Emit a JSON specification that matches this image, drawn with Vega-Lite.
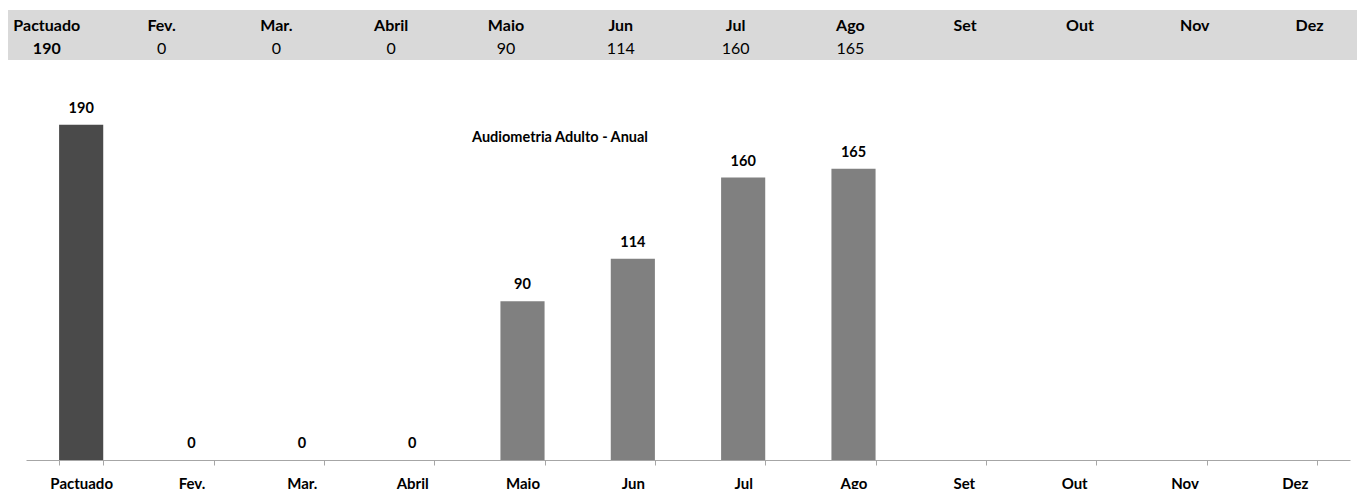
{
  "$schema": "https://vega.github.io/schema/vega-lite/v6.json",
  "padding": {"left": 8, "top": 10, "right": 0, "bottom": 0},
  "background": "white",
  "spacing": 40,
  "config": {"font": "Lato", "view": {"stroke": null}},
  "data": {"values": [
    {"mes": "Pactuado", "valor": 190, "tipo": "Pactuado"},
    {"mes": "Fev.", "valor": 0, "tipo": "Realizado"},
    {"mes": "Mar.", "valor": 0, "tipo": "Realizado"},
    {"mes": "Abril", "valor": 0, "tipo": "Realizado"},
    {"mes": "Maio", "valor": 90, "tipo": "Realizado"},
    {"mes": "Jun", "valor": 114, "tipo": "Realizado"},
    {"mes": "Jul", "valor": 160, "tipo": "Realizado"},
    {"mes": "Ago", "valor": 165, "tipo": "Realizado"},
    {"mes": "Set", "valor": null, "tipo": "Realizado"},
    {"mes": "Out", "valor": null, "tipo": "Realizado"},
    {"mes": "Nov", "valor": null, "tipo": "Realizado"},
    {"mes": "Dez", "valor": null, "tipo": "Realizado"}
  ]},
  "vconcat": [
    {
      "width": 1349,
      "height": 50,
      "view": {"fill": "#d9d9d9", "stroke": null},
      "encoding": {
        "x": {"field": "mes", "type": "nominal",
          "scale": {"type": "point", "domain": ["Pactuado","Fev.","Mar.","Abril","Maio","Jun","Jul","Ago","Set","Out","Nov","Dez"], "padding": 0.3755, "align": 0.45},
          "axis": null}
      },
      "layer": [
        {
          "mark": {"type": "text", "fontWeight": "bold", "fontSize": 16, "color": "black"},
          "encoding": {
            "y": {"datum": "nome", "type": "nominal", "scale": {"domain": ["nome", "valor"], "range": [16, 39], "padding": 0}, "axis": null},
            "text": {"field": "mes"}
          }
        },
        {
          "transform": [{"filter": "datum.mes === 'Pactuado'"}],
          "mark": {"type": "text", "fontWeight": "bold", "fontSize": 16, "color": "black"},
          "encoding": {
            "y": {"datum": "valor", "type": "nominal"},
            "text": {"field": "valor"}
          }
        },
        {
          "transform": [{"filter": "datum.mes !== 'Pactuado' && isValid(datum.valor)"}],
          "mark": {"type": "text", "fontWeight": "normal", "fontSize": 16, "color": "black"},
          "encoding": {
            "y": {"datum": "valor", "type": "nominal"},
            "text": {"field": "valor"}
          }
        }
      ]
    },
    {
      "width": 1349,
      "height": 353,
      "title": {"text": "Audiometria Adulto - Anual", "anchor": "start", "dx": 464, "dy": 49, "fontSize": 14.5, "fontWeight": "bold", "font": "Lato", "color": "black"},
      "encoding": {
        "x": {"field": "mes", "type": "nominal",
          "scale": {"domain": ["Pactuado","Fev.","Mar.","Abril","Maio","Jun","Jul","Ago","Set","Out","Nov","Dez"], "range": [18, 1342], "paddingInner": 0.6, "paddingOuter": 0.3},
          "axis": {"title": null, "labelAngle": 0, "domainColor": "#a6a6a6", "tickColor": "#a6a6a6", "tickSize": 5, "tickBand": "extent", "labelFontWeight": "bold", "labelFontSize": 15, "labelColor": "black", "labelPadding": 11, "labelFont": "Lato"}},
        "y": {"field": "valor", "type": "quantitative", "scale": {"domain": [0, 200]}, "axis": null}
      },
      "layer": [
        {
          "mark": {"type": "bar"},
          "encoding": {
            "color": {"field": "tipo", "type": "nominal", "scale": {"domain": ["Pactuado", "Realizado"], "range": ["#4a4a4a", "#808080"]}, "legend": null}
          }
        },
        {
          "transform": [{"filter": "isValid(datum.valor)"}],
          "mark": {"type": "text", "baseline": "bottom", "dy": -9, "fontWeight": "bold", "fontSize": 14.5, "color": "black"},
          "encoding": {"text": {"field": "valor"}}
        }
      ]
    }
  ]
}
